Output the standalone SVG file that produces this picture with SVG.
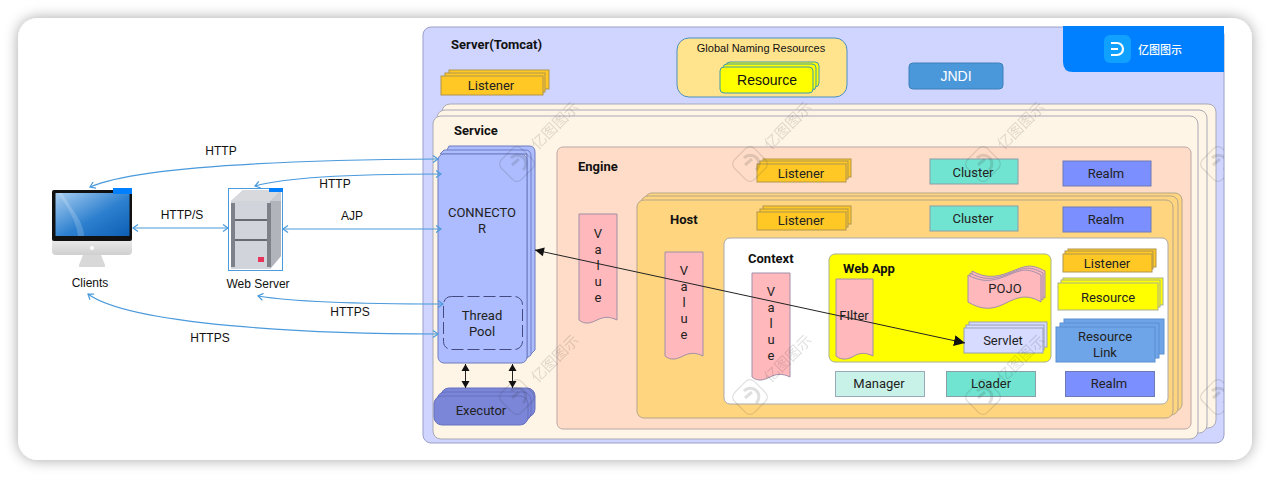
<svg xmlns="http://www.w3.org/2000/svg" width="1270" height="478" viewBox="0 0 1270 478">
<style>
text{font-family:Roboto,"Noto Sans","Liberation Sans",sans-serif;font-size:13px;fill:#222;text-anchor:middle}
.h{font-family:"Liberation Sans",Arial,sans-serif;font-size:12px;fill:#111}
.b{font-weight:700;text-anchor:start;fill:#111}
.bl{stroke:#8f96b8;stroke-width:1}
.svc{fill:#fff5e6;stroke:#a9a9b5}
.host{fill:#ffd580;stroke:#b3a58a}
.lis{fill:#ffc825;stroke:#b0954e}
.clu{fill:#70e4d0;stroke:#8a9ea8}
.rea{fill:#7b8fff;stroke:#6f7bb5}
.val{fill:#ffb8bc;stroke:#a08fa8}
.con{fill:#acbcff;stroke:#6f7dc0}
.exe{fill:#7b86d8;stroke:#6670c0}
.yel{fill:#ff0;stroke:#a8b090}
.rl{fill:#6ea5e8;stroke:#5b8fcf}
.sv{fill:#d6dbff;stroke:#98a0b8}
.cb{fill:none;stroke:#4a9adc;stroke-width:1.2;marker-start:url(#o1);marker-end:url(#o2)}
.ck{fill:none;stroke:#222;stroke-width:1;marker-start:url(#k1);marker-end:url(#k2)}
.cl{fill:none;stroke:#222;stroke-width:1;marker-start:url(#m1);marker-end:url(#m2)}
.wm{opacity:.15}
.wm text{font-size:15px;fill:#333;text-anchor:start;font-family:"Noto Sans CJK SC",sans-serif}
</style>
<defs>
<filter id="sh" x="-5%" y="-10%" width="110%" height="120%"><feDropShadow dx="0" dy="0" stdDeviation="7" flood-color="#000" flood-opacity=".35"/></filter>
<marker id="o2" markerWidth="9" markerHeight="9" refX="7" refY="4" orient="auto" markerUnits="userSpaceOnUse"><path d="M2 .5L7 4L2 7.5" fill="none" stroke="#4a9adc" stroke-width="1.2"/></marker>
<marker id="o1" markerWidth="9" markerHeight="9" refX="2" refY="4" orient="auto" markerUnits="userSpaceOnUse"><path d="M7 .5L2 4L7 7.5" fill="none" stroke="#4a9adc" stroke-width="1.2"/></marker>
<marker id="k2" markerWidth="10" markerHeight="10" refX="7" refY="4" orient="auto" markerUnits="userSpaceOnUse"><path d="M0 0L7 4L0 8Z" fill="#111"/></marker>
<marker id="k1" markerWidth="10" markerHeight="10" refX="0" refY="4" orient="auto" markerUnits="userSpaceOnUse"><path d="M7 0L0 4L7 8Z" fill="#111"/></marker>
<marker id="m2" markerWidth="13" markerHeight="12" refX="11" refY="5.500" orient="auto" markerUnits="userSpaceOnUse"><path d="M0 0L11 5.500L0 11Z" fill="#111"/></marker>
<marker id="m1" markerWidth="10" markerHeight="10" refX="0" refY="4.500" orient="auto" markerUnits="userSpaceOnUse"><path d="M9 0L0 4.500L9 9Z" fill="#111"/></marker>
<g id="wmk" class="wm">
<rect x="-14" y="-14" width="28" height="28" rx="6" fill="none" stroke="#333" stroke-width="1.2" transform="rotate(45)"/>
<path d="M-6 -6A8.500 8.500 0 1 1 6 6M-5 1L2 -5" fill="none" stroke="#333" stroke-width="3"/>
<text x="24" y="5" transform="rotate(-45)">亿图图示</text>
</g>
<linearGradient id="scr" x1="0" y1="0" x2="1" y2="1"><stop offset="0" stop-color="#a8cdf0"/><stop offset=".55" stop-color="#2d80cf"/><stop offset="1" stop-color="#0c5fb3"/></linearGradient>
<linearGradient id="slv" x1="0" y1="0" x2="0" y2="1"><stop offset="0" stop-color="#f2f2f2"/><stop offset="1" stop-color="#cfcfcf"/></linearGradient>
<clipPath id="card"><rect x="18" y="18" width="1206" height="442"/></clipPath>
</defs>
<rect width="1270" height="478" fill="#fff"/>
<rect x="18" y="18" width="1234" height="442" rx="20" fill="#fff" filter="url(#sh)"/>

<g id="server"><rect x="423" y="27" width="801" height="416" rx="8" fill="#cfd5fe" stroke="#9aa0c8"/><text class="b" x="451" y="49">Server(Tomcat)</text></g>

<g id="server-listener">
<rect class="lis" x="449" y="70" width="100" height="19"/><rect class="lis" x="445" y="73" width="100" height="19"/><rect class="lis" x="441" y="76" width="102" height="19"/>
<text x="491" y="90">Listener</text></g>

<g id="global-naming"><rect x="677" y="38" width="170" height="59" rx="12" fill="#ffe38d" stroke="#4a8fc4"/><text class="h" x="761" y="52" style="font-size:11px">Global Naming Resources</text></g>
<g id="global-resource">
<rect x="726" y="62" width="93" height="25" rx="4" fill="#ff0" stroke="#3f9ab0"/><rect x="723" y="64" width="93" height="26" rx="4" fill="#ff0" stroke="#3f9ab0"/><rect x="720" y="67" width="93" height="26" rx="4" fill="#ff0" stroke="#3f9ab0"/>
<text class="h" x="767" y="85" style="font-size:14px">Resource</text></g>

<g id="jndi"><rect x="909" y="63" width="94" height="26" rx="4" fill="#4a98da" stroke="#3d7fb8"/><text class="h" x="956" y="81" style="fill:#fff;font-size:14px">JNDI</text></g>

<g id="logo"><path d="M1063 26H1224V72H1073Q1063 72 1063 62Z" fill="#0080ff"/>
<rect x="1104" y="35" width="27" height="28" rx="6" fill="#10a0ff"/>
<path d="M1111 43H1117A6 6 0 0 1 1117 55H1111M1111 49H1118" fill="none" stroke="#fff" stroke-width="2.200"/>
<text x="1160" y="54" style="fill:#fff;font-size:11px;font-family:'Noto Sans CJK SC',sans-serif;font-weight:500">亿图图示</text></g>

<g id="service">
<rect class="svc" x="442" y="104" width="774" height="324" rx="8"/>
<rect class="svc" x="437" y="110" width="770" height="323" rx="8"/>
<rect class="svc" x="433" y="116" width="765" height="323" rx="8"/>
<text class="b" x="454" y="135">Service</text></g>

<g id="engine"><rect x="557" y="147" width="634" height="282" rx="6" fill="#ffdcc7" stroke="#b9a7a7"/><text class="b" x="578" y="171">Engine</text></g>

<g id="connector">
<path class="con" d="M449 146H529Q535 146 535 152V350L527 358V154H445Z"/>
<path class="con" d="M444 150H525Q531 150 531 156V355L527 358V154H440Z"/>
<rect class="con" x="438" y="154" width="89" height="209" rx="6"/>
<text x="482" y="217">CONNECTO</text><text x="482" y="233">R</text></g>
<g id="thread-pool"><rect x="443.500" y="296.500" width="79" height="53" rx="8" fill="none" stroke="#444a80" stroke-dasharray="12 4"/><text x="482" y="320">Thread</text><text x="482" y="336">Pool</text></g>

<g id="executor">
<rect class="exe" x="441" y="388" width="94" height="29" rx="8"/><rect class="exe" x="437" y="392" width="94" height="29" rx="8"/><rect class="exe" x="434" y="396" width="94" height="29" rx="8"/>
<text x="481" y="415">Executor</text></g>

<g id="engine-value"><path class="val" d="M579 214H617V320C609 316 603 317 597 320S585 325 579 320Z"/><text x="598" y="238">V</text><text x="598" y="254">a</text><text x="598" y="270">l</text><text x="598" y="286">u</text><text x="598" y="302">e</text></g>
<g id="engine-listener">
<rect class="lis" x="763" y="159" width="88" height="18"/><rect class="lis" x="760" y="161" width="88" height="18"/><rect class="lis" x="757" y="164" width="89" height="18"/>
<text x="801" y="178">Listener</text></g>
<g id="engine-cluster"><rect class="clu" x="930" y="159" width="88" height="25"/><text x="973" y="177">Cluster</text></g>
<g id="engine-realm"><rect class="rea" x="1063" y="161" width="88" height="25"/><text x="1106" y="178">Realm</text></g>

<g id="host">
<rect class="host" x="645" y="193" width="537" height="218" rx="7"/><rect class="host" x="641" y="196" width="537" height="219" rx="7"/><rect class="host" x="637" y="200" width="536" height="218" rx="7"/>
<text class="b" x="670" y="224">Host</text></g>
<g id="host-value"><path class="val" d="M665 252H703V356C695 352 689 353 683 356S671 361 665 356Z"/><text x="684" y="275">V</text><text x="684" y="291">a</text><text x="684" y="307">l</text><text x="684" y="323">u</text><text x="684" y="339">e</text></g>
<g id="host-listener">
<rect class="lis" x="763" y="206" width="88" height="18"/><rect class="lis" x="760" y="209" width="88" height="18"/><rect class="lis" x="757" y="212" width="89" height="18"/>
<text x="801" y="225">Listener</text></g>
<g id="host-cluster"><rect class="clu" x="930" y="206" width="88" height="25"/><text x="973" y="223">Cluster</text></g>
<g id="host-realm"><rect class="rea" x="1063" y="207" width="88" height="25"/><text x="1106" y="224">Realm</text></g>

<g id="context"><rect x="724" y="238" width="444" height="166" rx="6" fill="#fff" stroke="#aaa"/><text class="b" x="748" y="263">Context</text></g>
<g id="context-value"><path class="val" d="M752 273H790V377C782 373 776 374 770 377S758 382 752 377Z"/><text x="771" y="296">V</text><text x="771" y="312">a</text><text x="771" y="328">l</text><text x="771" y="344">u</text><text x="771" y="360">e</text></g>

<g id="web-app"><rect x="829" y="254" width="222" height="108" rx="6" fill="#ff0" stroke="#a8b090"/><text class="b" x="843" y="273">Web App</text></g>
<g id="filter"><path class="val" d="M836 279H873V356C865 352 859 353 854 356S842 361 836 356Z"/><text x="854" y="320">FIlter</text></g>
<g id="pojo">
<path class="val" d="M972 271C985 278 995 278 1010 272S1030 263 1045 271V298C1030 289 1020 294 1008 300S985 306 972 298Z"/>
<path class="val" d="M970 273C983 280 993 280 1008 274S1028 265 1043 273V300C1028 291 1018 296 1006 302S983 308 970 300Z"/>
<path class="val" d="M968 275C981 282 991 282 1006 276S1026 267 1041 275V302C1026 293 1016 298 1004 304S981 310 968 302Z"/>
<text x="1005" y="293">POJO</text></g>
<g id="servlet">
<rect class="sv" x="969" y="322" width="78" height="25"/><rect class="sv" x="966" y="325" width="78" height="25"/><rect class="sv" x="964" y="328" width="79" height="25"/>
<text x="1003" y="345">Servlet</text></g>

<g id="context-listener">
<rect class="lis" x="1068" y="249" width="88" height="18"/><rect class="lis" x="1065" y="251" width="88" height="18"/><rect class="lis" x="1063" y="254" width="89" height="18"/>
<text x="1107" y="268">Listener</text></g>
<g id="context-resource">
<rect class="yel" x="1063" y="278" width="100" height="27"/><rect class="yel" x="1061" y="280" width="99" height="27"/><rect class="yel" x="1058" y="283" width="100" height="27"/>
<text x="1108" y="302">Resource</text></g>
<g id="resource-link">
<rect class="rl" x="1064" y="319" width="100" height="35"/><rect class="rl" x="1060" y="323" width="99" height="35"/><rect class="rl" x="1056" y="327" width="99" height="35"/>
<text x="1105" y="341">Resource</text><text x="1105" y="357">Link</text></g>
<g id="manager"><rect x="835.500" y="371.500" width="89" height="25" fill="#c8f2e8" stroke="#98aab8"/><text x="879" y="388">Manager</text></g>
<g id="loader"><rect class="clu" x="946.500" y="371.500" width="89" height="25"/><text x="991" y="388">Loader</text></g>
<g id="context-realm"><rect class="rea" x="1065.500" y="371.500" width="89" height="25"/><text x="1109" y="388">Realm</text></g>

<g id="clients">
<path d="M83 255H101L105 265Q106 267 103 267H81Q78 267 79 265Z" fill="#d8d8d8"/>
<path d="M52 236H132V251Q132 255 128 255H56Q52 255 52 251Z" fill="url(#slv)"/>
<rect x="52" y="190" width="80" height="51" rx="2" fill="#111"/>
<rect x="55.500" y="193" width="74" height="43" fill="url(#scr)"/>
<path d="M62 193C72 210 84 222 84 236H78C76 220 68 208 58 193Z" fill="#fff" opacity=".18"/>
<circle cx="92" cy="248" r="2" fill="#fff"/>
<rect x="113" y="188" width="19" height="6" fill="#0080ff"/>
<text class="h" x="90" y="287">Clients</text></g>

<g id="web-server">
<rect x="228.500" y="188.500" width="54" height="82" fill="#fff" stroke="#4a9adc"/>
<path d="M231 201L243 190H281V256L270 269H231Z" fill="#c9cbd2"/>
<path d="M270 201H281V256L270 269Z" fill="#b2b4bb"/>
<path d="M231 201L243 190H281L270 201Z" fill="#d8d9dd"/>
<rect x="231" y="201" width="39" height="68" fill="#d2d4dc"/>
<rect x="231" y="203" width="4" height="64" fill="#7e8189"/><rect x="267" y="203" width="4" height="64" fill="#7e8189"/>
<rect x="235" y="219" width="32" height="2" fill="#666a72"/><rect x="235" y="239" width="32" height="2" fill="#666a72"/>
<rect x="258" y="257" width="6" height="5" fill="#e8335a"/>
<rect x="269" y="188" width="14" height="4" fill="#0080ff"/>
<text class="h" x="258" y="288">Web Server</text></g>

<g id="connectors">
<path class="cb" d="M90 187C140 165 300 160 438 159"/>
<path class="cb" d="M255 186C290 176 370 174 441 174"/>
<path class="cb" d="M133 228H228"/>
<path class="cb" d="M283 229H441"/>
<path class="cb" d="M258 296C300 303 380 304 443 304"/>
<path class="cb" d="M88 294C130 325 310 334 438 334"/>
<path class="ck" d="M465.500 364V388"/>
<path class="ck" d="M512.500 364V388"/>
<path class="cl" d="M535 250L965 343"/>
</g>

<g id="labels">
<text class="h" x="221" y="155">HTTP</text>
<text class="h" x="335" y="188">HTTP</text>
<text class="h" x="182" y="219">HTTP/S</text>
<text class="h" x="352" y="220">AJP</text>
<text class="h" x="350" y="316">HTTPS</text>
<text class="h" x="210" y="342">HTTPS</text>
</g>

<g id="watermarks" clip-path="url(#card)">
<use href="#wmk" x="517" y="164"/><use href="#wmk" x="750" y="164"/><use href="#wmk" x="983" y="164"/><use href="#wmk" x="1218" y="164"/>
<use href="#wmk" x="517" y="397"/><use href="#wmk" x="750" y="397"/><use href="#wmk" x="983" y="397"/><use href="#wmk" x="1218" y="397"/>
</g>
</svg>
